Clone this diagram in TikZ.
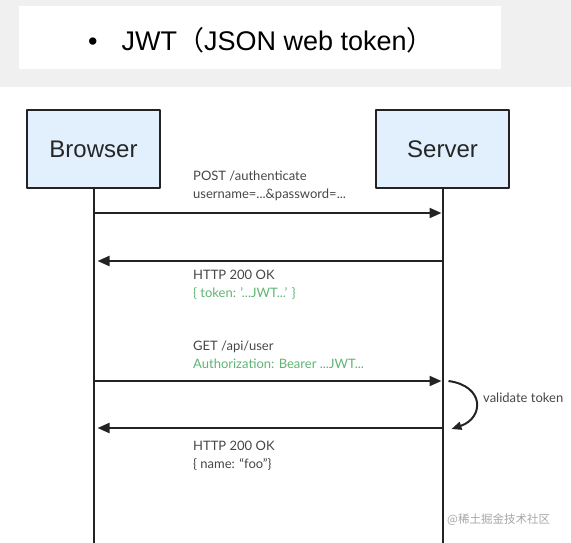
\documentclass[tikz,border=0pt]{standalone}
\usepackage{fontspec}
\setmainfont{Lato}
\newfontfamily\headfont{Liberation Sans}
\newfontfamily\cjk{Noto Sans CJK SC}
\usetikzlibrary{positioning,arrows.meta}
\definecolor{boxblue}{RGB}{225,240,252}
\definecolor{msggreen}{RGB}{95,180,115}
\definecolor{linegray}{RGB}{35,35,35}
\definecolor{textgray}{RGB}{70,70,70}
\tikzset{
  actor/.style={draw=linegray, line width=1.8pt, fill=boxblue, minimum width=133pt, minimum height=78pt, font=\headfont\fontsize{24}{28}\selectfont, text=black!85},
  life/.style={draw=linegray, line width=2pt},
  msgline/.style={draw=linegray, line width=2pt, -{Triangle[length=12pt,width=10pt]}},
  msg/.style={anchor=west, align=left, inner sep=0pt, text=textgray, font=\fontsize{13}{18}\selectfont}
}
\begin{document}
\begin{tikzpicture}[x=1pt,y=-1pt,line join=round,line cap=butt]
\useasboundingbox (0,0) rectangle (571,543);
% title band
\fill[black!6] (0,0) rectangle (571,87);
\fill[white] (19,6) rectangle (501,69);
\node[anchor=west, inner sep=0pt, font=\headfont\fontsize{27}{32}\selectfont] (title) at (88,40)
  {\textbullet\hspace{24pt}JWT{\cjk （}JSON web token{\cjk ）}};
% actors
\node[actor] (browser) at (93.5,149) {Browser};
\node[actor] (server) at (442.5,149) {Server};
\coordinate (bend) at (browser.south |- 0,543);
\coordinate (send) at (server.south |- 0,543);
\draw[life] (browser.south) -- (bend);
\draw[life] (server.south) -- (send);
% messages
\coordinate (b1) at (browser.south |- 0,213);
\coordinate (s1) at (server.south |- 0,213);
\coordinate (b2) at (browser.south |- 0,261);
\coordinate (s2) at (server.south |- 0,261);
\coordinate (b3) at (browser.south |- 0,381);
\coordinate (s3) at (server.south |- 0,381);
\coordinate (b4) at (browser.south |- 0,428);
\coordinate (s4) at (server.south |- 0,428);
\draw[msgline, shorten >=1pt] (b1) -- (s1);
\draw[msgline, shorten >=4pt] (s2) -- (b2);
\draw[msgline, shorten >=1pt] (b3) -- (s3);
\draw[msgline, shorten >=4pt] (s4) -- (b4);
\node[msg] (login) at (193,186) {POST /authenticate\\username=...\&password=...};
\node[msg] (tokenok) at (193,285) {HTTP 200 OK\\\textcolor{msggreen}{\{ token: '...JWT...' \}}};
\node[msg] (getuser) at (193,355) {GET /api/user\\\textcolor{msggreen}{Authorization: Bearer ...JWT...}};
\node[msg] (userok) at (193,456) {HTTP 200 OK\\\{ name: ``foo''\}};
% validation
\coordinate (v1) at ([xshift=6pt]s3);
\coordinate (v2) at ([xshift=9pt,yshift=-1pt]s4);
\draw[draw=linegray, line width=2pt, -{Triangle[length=10pt,width=8pt]}] (v1) .. controls (485,386) and (484,418) .. (v2);
\node[msg] (validate) at (483,398) {validate token};
% watermark
\node[anchor=west, inner sep=0pt, text=black!35, font=\cjk\fontsize{11.5}{14}\selectfont] (mark) at (447,520) {@稀土掘金技术社区};
\end{tikzpicture}
\end{document}
